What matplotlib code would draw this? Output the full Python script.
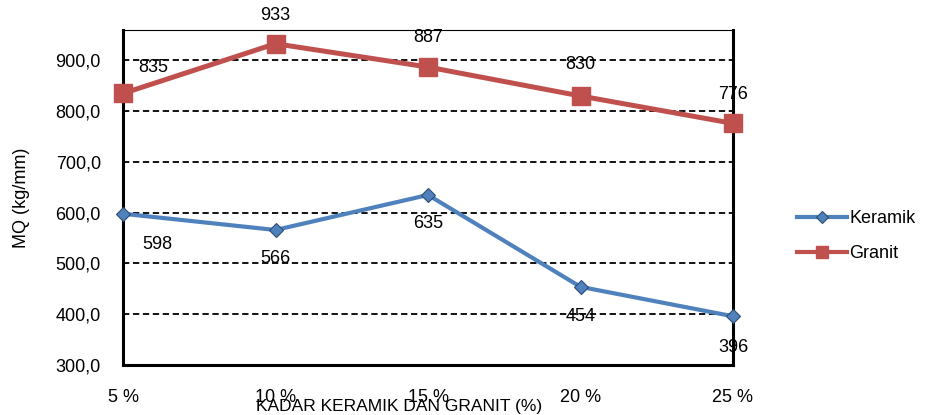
import matplotlib
matplotlib.use("Agg")
import matplotlib.pyplot as plt
from matplotlib.ticker import FuncFormatter
from matplotlib.lines import Line2D

categories = ["5 %", "10 %", "15 %", "20 %", "25 %"]
keramik = [598, 566, 635, 454, 396]
granit = [835, 933, 887, 830, 776]
yticks = [300, 400, 500, 600, 700, 800, 900]

plt.rcParams['font.family'] = ['Liberation Sans', 'DejaVu Sans']
PX = 72 / 100.0

fig = plt.figure(figsize=(9.27, 4.15), dpi=100)
ax = fig.add_axes([123/927, 1-365/415, (733-123)/927, (365-30)/415])

x = list(range(len(categories)))
ax.plot(x, keramik, color='#4F81BD', lw=3, marker='D', ms=7,
        mfc='#4F81BD', mec='#2C4D75', mew=0.8, label='Keramik', zorder=3, clip_on=False)
ax.plot(x, granit, color='#C0504D', lw=3.6, marker='s', ms=13.5,
        mfc='#C0504D', mec='#C0504D', label='Granit', zorder=3, clip_on=False)

ax.set_xlim(0, len(categories)-1)
ax.set_ylim(300, 960)
ax.set_yticks(yticks)
ax.yaxis.set_major_formatter(FuncFormatter(lambda v, p: f"{v:.1f}".replace('.', ',')))
ax.set_xticks(x)
ax.set_xticklabels(categories)
ax.tick_params(axis='both', length=0, labelsize=13)
ax.tick_params(axis='x', pad=24*PX)
ax.tick_params(axis='y', pad=22*PX)

for v in yticks[1:]:
    ax.axhline(v, color='black', lw=1.3, ls=(0, (3.5, 2)), zorder=1)

for side in ['left', 'bottom', 'right']:
    ax.spines[side].set_linewidth(2.2)
ax.spines['top'].set_linewidth(0.8)

g_off = [(30, 26), (0, 28), (0, 30), (0, 31), (0, 29)]
k_off = [(34, -31), (0, -29), (0, -29), (0, -30), (0, -31)]
for i in x:
    ax.annotate(str(granit[i]), (i, granit[i]), xytext=(g_off[i][0]*PX, g_off[i][1]*PX),
                textcoords='offset points', ha='center', va='center', fontsize=13,
                annotation_clip=False)
    ax.annotate(str(keramik[i]), (i, keramik[i]), xytext=(k_off[i][0]*PX, k_off[i][1]*PX),
                textcoords='offset points', ha='center', va='center', fontsize=13,
                annotation_clip=False)

fig.text(399/927, 1-406/415, "KADAR KERAMIK DAN GRANIT (%)", ha='center', va='center', fontsize=12.5)
fig.text(22/927, 1-198/415, "MQ (kg/mm)", ha='center', va='center', rotation=90, fontsize=13)

handles = [
    Line2D([], [], color='#4F81BD', lw=3, marker='D', ms=6, mfc='#4F81BD', mec='#2C4D75', mew=0.8),
    Line2D([], [], color='#C0504D', lw=3, marker='s', ms=8, mfc='#C0504D', mec='#C0504D'),
]
fig.legend(handles, ['Keramik', 'Granit'], loc='center left',
           bbox_to_anchor=(797/927, 1-236/415), frameon=False, borderpad=0, borderaxespad=0,
           fontsize=13, handlelength=2.75, labelspacing=1.0, handletextpad=0.15)

fig.savefig("out.png", dpi=100)
